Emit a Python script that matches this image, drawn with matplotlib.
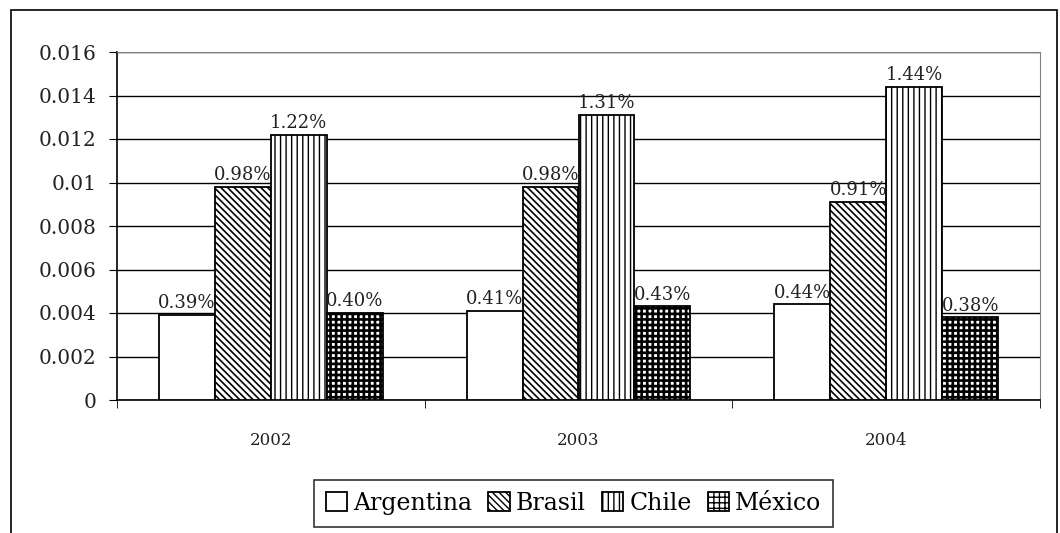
import numpy as np
import matplotlib.pyplot as plt
from matplotlib.patches import Rectangle

years = ["2002", "2003", "2004"]
countries = ["Argentina", "Brasil", "Chile", "México"]
argentina = [0.0039, 0.0041, 0.0044]
brasil = [0.0098, 0.0098, 0.0091]
chile = [0.0122, 0.0131, 0.0144]
mexico = [0.0040, 0.0043, 0.0038]
yticks = [0, 0.002, 0.004, 0.006, 0.008, 0.01, 0.012, 0.014, 0.016]

plt.rcParams["font.family"] = ["DejaVu Serif"]

fig = plt.figure(figsize=(10.6, 5.33), dpi=100)
ax = fig.add_axes([117 / 1060, 1 - 400 / 533, 923 / 1060, 348 / 533])

# outer chart border
fig.add_artist(Rectangle((11 / 1060, -0.1), 1046 / 1060, 1.1 - 10 / 533,
                         transform=fig.transFigure, fill=False,
                         edgecolor="black", linewidth=1.2))

x = np.arange(len(years))
w = 0.182
series = [argentina, brasil, chile, mexico]
hatches = ["", "\\\\\\\\\\", "|||", "+++"]
hatch_lw = [1.0, 1.2, 1.0, 1.9]
handles = []
for i, (vals, h) in enumerate(zip(series, hatches)):
    pos = x + (i - 1.5) * w
    with plt.rc_context({"hatch.linewidth": hatch_lw[i]}):
        bars = ax.bar(pos, vals, width=w, facecolor="white", edgecolor="black",
                      hatch=h, linewidth=1.3, zorder=3)
    handles.append(bars)
    for px, v in zip(pos, vals):
        ax.annotate(f"{v * 100:.2f}%", (px, v), xytext=(0, 2),
                    textcoords="offset points", ha="center", va="bottom",
                    fontsize=13, color="#222222", zorder=4)

ax.set_xlim(-0.5, 2.5)
ax.set_ylim(0, 0.016)
ax.set_yticks(yticks)
ax.set_yticklabels([f"{t:g}" for t in yticks], fontsize=14.5, color="#222222")
ax.grid(axis="y", color="black", linewidth=1.0, zorder=0)

ax.set_xticks(x)
ax.set_xticklabels(years, fontsize=12, color="#222222")
ax.set_xticks([-0.5, 0.5, 1.5, 2.5], minor=True)
ax.tick_params(axis="x", which="major", length=0, pad=23)
ax.tick_params(axis="x", which="minor", length=6, direction="out")
ax.tick_params(axis="y", length=6, direction="out", pad=9)

for s in ["top", "right"]:
    ax.spines[s].set_color("gray")
ax.spines["left"].set_linewidth(1.2)
ax.spines["bottom"].set_linewidth(1.2)

leg = fig.legend(handles=handles, labels=countries, loc="upper left",
                 bbox_to_anchor=(314 / 1060, 1 - 480 / 533), ncol=4,
                 fontsize=17, frameon=True, fancybox=False, handlelength=0.9,
                 handleheight=0.9, handletextpad=0.25, columnspacing=0.7,
                 borderpad=0.5, borderaxespad=0)
leg.get_frame().set_edgecolor("black")
leg.get_frame().set_linewidth(1.2)

fig.savefig("out.png", dpi=100)
